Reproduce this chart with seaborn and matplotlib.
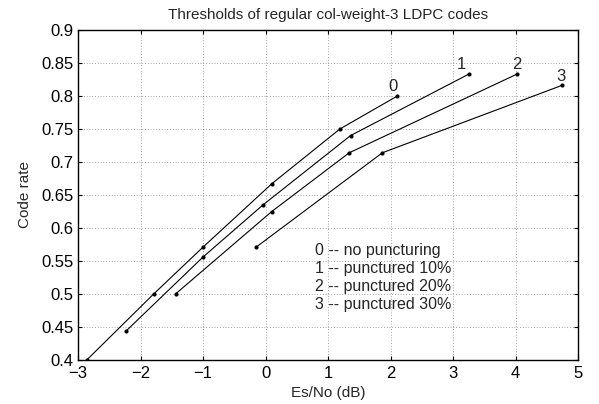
import numpy as np
import pandas as pd
import matplotlib
matplotlib.use("Agg")
import matplotlib.pyplot as plt
import seaborn as sns

# Data
curve0_x = [-2.86, -1.79, -1.0, 0.1, 1.19, 2.11]
curve0_y = [0.400, 0.500, 0.571, 0.667, 0.750, 0.800]
curve1_x = [-2.23, -1.0, -0.04, 1.36, 3.25]
curve1_y = [0.444, 0.556, 0.635, 0.740, 0.833]
curve2_x = [-1.44, 0.1, 1.34, 4.02]
curve2_y = [0.500, 0.625, 0.714, 0.833]
curve3_x = [-0.15, 1.87, 4.74]
curve3_y = [0.571, 0.714, 0.816]
curve_names = ["0", "1", "2", "3"]
label_pos_x = [1.96, 3.06, 3.94, 4.66]
label_pos_y = [0.815, 0.847, 0.847, 0.829]
legend_lines = ["0 -- no puncturing", "1 -- punctured 10%", "2 -- punctured 20%", "3 -- punctured 30%"]
x_ticks = [-3, -2, -1, 0, 1, 2, 3, 4, 5]
y_ticks = [0.4, 0.45, 0.5, 0.55, 0.6, 0.65, 0.7, 0.75, 0.8, 0.85, 0.9]

frames = []
for name, xs, ys in zip(curve_names, [curve0_x, curve1_x, curve2_x, curve3_x],
                        [curve0_y, curve1_y, curve2_y, curve3_y]):
    frames.append(pd.DataFrame({"x": xs, "y": ys, "curve": name}))
df = pd.concat(frames, ignore_index=True)

sns.set_style("ticks")
plt.rcParams['font.family'] = ['Liberation Sans', 'DejaVu Sans']

fig = plt.figure(figsize=(5.99, 4.04), dpi=100)
ax = fig.add_axes([78/599, 1 - 360/404, 500/599, 330/404])

sns.lineplot(data=df, x="x", y="y", hue="curve", palette=["black"] * 4,
             marker="o", markersize=3, markeredgewidth=0, linewidth=0.8,
             sort=False, legend=False, ax=ax, estimator=None)

ax.set_xlim(-3, 5)
ax.set_ylim(0.4, 0.9)
ax.set_xticks(x_ticks)
ax.set_yticks(y_ticks)
ax.set_xticklabels(["\u22123", "\u22122", "\u22121", "0", "1", "2", "3", "4", "5"])
ax.set_yticklabels(["0.4", "0.45", "0.5", "0.55", "0.6", "0.65", "0.7", "0.75", "0.8", "0.85", "0.9"])
ax.grid(True, linestyle=(0, (1, 3)), color="#555555", linewidth=0.5)
ax.tick_params(direction="in", length=3, width=0.8, labelsize=12, colors="black",
               top=True, right=True)
ax.tick_params(axis="x", pad=4)
ax.tick_params(axis="y", pad=3)
for s in ax.spines.values():
    s.set_linewidth(1.0)
    s.set_color("black")

for n, lx, ly in zip(curve_names, label_pos_x, label_pos_y):
    ax.text(lx, ly, n, fontsize=12, ha="left", va="center")

for i, line in enumerate(legend_lines):
    ax.text(0.79, 0.566 - i * 0.0275, line, fontsize=11.5, ha="left", va="center")

ax.set_title("Thresholds of regular col-weight-3 LDPC codes", fontsize=11, pad=8)
ax.set_xlabel("Es/No (dB)", fontsize=11, labelpad=4)
ax.set_ylabel("Code rate", fontsize=11, labelpad=7)

fig.savefig("out.png", dpi=100)
